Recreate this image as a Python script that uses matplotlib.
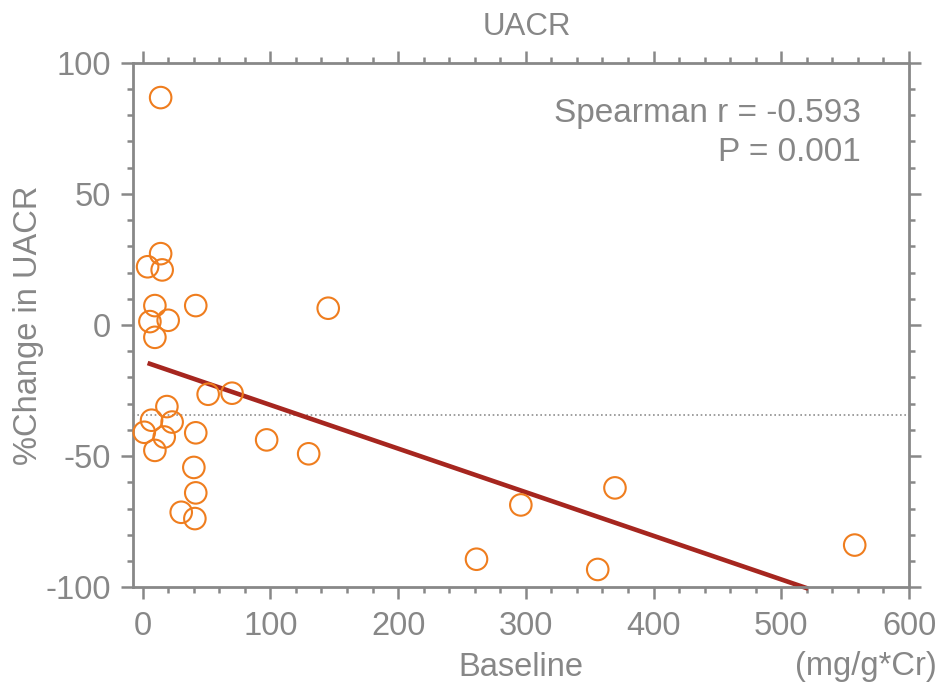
import matplotlib
matplotlib.use("Agg")
import matplotlib.pyplot as plt
from matplotlib.ticker import MultipleLocator

plt.rcParams['font.family'] = ['Liberation Sans', 'DejaVu Sans']
plt.rcParams['axes.unicode_minus'] = False

# Data
baseline = [14.1, 14.1, 3.9, 15.3, 9.6, 41.6, 5.7, 20.0, 9.6, 145.3,
            51.3, 70.0, 19.0, 7.0, 23.1, 1.3, 16.9, 41.6, 9.6, 97.1,
            130.0, 40.1, 41.6, 30.2, 40.9, 296.1, 369.8, 261.4, 356.3, 557.5]
pct_change = [86.7, 27.2, 22.2, 21.0, 7.4, 7.4, 1.3, 1.8, -4.7, 6.4,
              -26.4, -26.0, -31.1, -36.3, -37.0, -40.9, -42.7, -41.1, -47.8, -43.8,
              -49.1, -54.3, -64.0, -71.4, -73.8, -68.6, -62.1, -89.3, -93.2, -83.9]
fit_x = [3.9, 521.0]
fit_y = [-14.5, -100.5]
ref_level = -34.4
x_ticks = [0, 100, 200, 300, 400, 500, 600]
y_ticks = [-100, -50, 0, 50, 100]

GRAY = '#888888'
TXT = '#878787'
ORANGE = '#EF7D1E'
RED = '#A6261F'

fig = plt.figure(figsize=(9.38, 6.85), dpi=100)
ax = fig.add_axes([133.3/938, 1-587.3/685, (909-133.3)/938, (587.3-62.7)/685])

ax.axhline(ref_level, color='#8f8f8f', lw=1.2, ls=(0, (1, 1.6)), zorder=1)
ax.plot(fit_x, fit_y, color=RED, lw=3.3, solid_capstyle='butt', zorder=2, clip_on=False)
ax.scatter(baseline, pct_change, s=15.5**2, facecolors='none', edgecolors=ORANGE,
           linewidths=1.5, zorder=3, clip_on=False)

ax.set_xlim(-7.3, 600)
ax.set_ylim(-100, 100)
ax.set_xticks(x_ticks)
ax.set_yticks(y_ticks)
ax.xaxis.set_minor_locator(MultipleLocator(20))
ax.yaxis.set_minor_locator(MultipleLocator(10))

for s in ax.spines.values():
    s.set_color(GRAY)
    s.set_linewidth(2.0)

ax.tick_params(which='both', direction='out', color=GRAY, width=1.8,
               top=True, right=True, labeltop=False, labelright=False,
               labelcolor=TXT, labelsize=23.5)
ax.tick_params(which='major', length=8.4)
ax.tick_params(which='minor', length=4.0)
ax.tick_params(axis='y', which='major', pad=8)
ax.tick_params(axis='x', which='major', pad=9)

ax.set_ylabel('%Change in UACR', color=TXT, fontsize=23.5)
ax.yaxis.set_label_coords(-0.1357, 0.5)
ax.set_xlabel('Baseline', color=TXT, fontsize=23.5)
ax.xaxis.set_label_coords(0.5, -0.153)
ax.xaxis.label.set_va('center')
ax.yaxis.label.set_va('center')

ax.text(0.5075, 1.068, 'UACR', transform=ax.transAxes, ha='center', va='center',
        color=TXT, fontsize=22.5)
ax.text(0.938, 0.904, 'Spearman r = -0.593', transform=ax.transAxes, ha='right',
        va='center', color=TXT, fontsize=24)
ax.text(0.938, 0.828, 'P = 0.001', transform=ax.transAxes, ha='right',
        va='center', color=TXT, fontsize=24)
fig.text(937/938, 1-667/685, '(mg/g*Cr)', ha='right', va='center', color=TXT, fontsize=23.5)

fig.savefig('out.png', dpi=100)
